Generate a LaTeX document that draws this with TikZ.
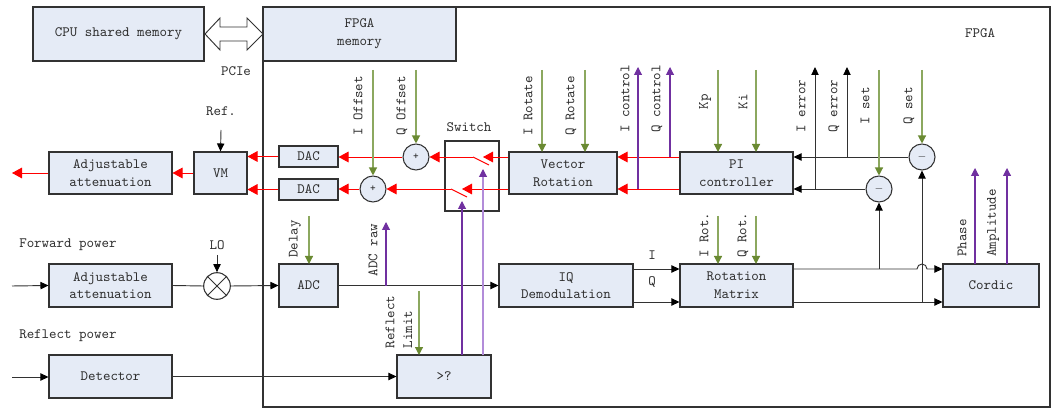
\documentclass[tikz,border=0pt]{standalone}
\usepackage{fontspec}
\usetikzlibrary{arrows.meta,calc}
\definecolor{boxblue}{RGB}{229,235,246}
\definecolor{edge}{RGB}{50,50,50}
\definecolor{txt}{RGB}{45,45,45}
\definecolor{grline}{RGB}{140,168,95}
\definecolor{grhead}{RGB}{106,138,50}
\definecolor{pdark}{RGB}{112,48,160}
\definecolor{plight}{RGB}{178,140,217}
\definecolor{rline}{RGB}{255,0,0}
\newcommand\bx[6]{\node[box, minimum width={(#4-#2)*0.75pt}, minimum height={(#5-#3)*0.75pt}] (#1) at ({(#2+#4)/2},{(#3+#5)/2}) {#6};}
\tikzset{
  box/.style={draw=edge, line width=0.8pt, fill=boxblue, inner sep=0pt, align=center, text=txt},
  sumc/.style={circle, draw=edge, line width=0.8pt, fill=boxblue, minimum size=19.5pt, inner sep=0pt, text=txt, font=\ttfamily\fontsize{8}{8}\selectfont},
  lbl/.style={text=txt, inner sep=0pt},
  rlbl/.style={text=txt, inner sep=0pt, rotate=90},
  blk/.style={draw=edge, line width=0.7pt, -{Triangle[length=6pt, width=5.5pt, color=black]}},
  bln/.style={draw=edge, line width=0.7pt},
  red/.style={draw=rline, line width=0.7pt, -{Triangle[length=7.5pt, width=8pt, color=rline]}},
  redl/.style={draw=rline, line width=0.7pt},
  grn/.style={draw=grline, line width=0.9pt, -{Triangle[length=6pt, width=6pt, color=grhead]}},
  pur/.style={draw=pdark, line width=0.8pt, -{Triangle[length=6pt, width=6pt, color=pdark]}},
  purl/.style={draw=plight, line width=0.8pt, -{Triangle[length=6pt, width=6pt, color=pdark]}},
}
\begin{document}
\begin{tikzpicture}[x=0.75pt, y=-0.75pt, font=\ttfamily\fontsize{10.7}{13.3}\selectfont]
\useasboundingbox (0,0) rectangle (1059,409);
% big FPGA box
\node[draw=edge, line width=0.8pt, minimum width={787*0.75pt}, minimum height={400*0.75pt}, inner sep=0pt] (fpga) at (656.5,207) {};
\node[lbl] (fpgalbl) at (980,33) {FPGA};
% boxes
\bx{cpu}{33}{7}{204}{61}{CPU shared memory}
\bx{fmem}{263}{7}{456}{61}{FPGA\\memory}
\bx{att1}{49}{152}{172}{194}{Adjustable\\attenuation}
\bx{vm}{194}{152}{247}{194}{VM}
\bx{dac1}{279}{146}{338}{167}{DAC}
\bx{dac2}{279}{179}{338}{200}{DAC}
\node[draw=edge, line width=0.8pt, fill=white, minimum width={54*0.75pt}, minimum height={70*0.75pt}, inner sep=0pt] (sw) at (472,176) {};
\bx{vr}{509}{152}{617}{194}{Vector\\Rotation}
\bx{pi}{680}{152}{793}{194}{PI\\controller}
\bx{att2}{49}{264}{172}{307}{Adjustable\\attenuation}
\bx{adc}{279}{264}{338}{307}{ADC}
\bx{iq}{499}{264}{633}{307}{IQ\\Demodulation}
\bx{rm}{680}{264}{793}{307}{Rotation\\Matrix}
\bx{cordic}{943}{264}{1039}{307}{Cordic}
\bx{cmp}{397}{355}{491}{398}{>?}
\bx{det}{49}{355}{172}{398}{Detector}
% circles
\node[sumc] (addQ) at (416,157) {+};
\node[sumc] (addI) at (373,189) {+};
\node[sumc] (subQ) at (922,157) {$-$};
\node[sumc] (subI) at (879,189) {$-$};
\node[circle, draw=edge, line width=0.8pt, fill=white, minimum size=20pt, inner sep=0pt] (mix) at (217,286) {};
\draw[edge, line width=0.7pt] (mix.north west) -- (mix.south east) (mix.north east) -- (mix.south west);
% PCIe double arrow
\draw[edge, line width=0.7pt, fill=white] (205,34) -- (220,18) -- (220,27) -- (247,27) -- (247,18) -- (263,34) -- (247,50) -- (247,41) -- (220,41) -- (220,50) -- cycle;
\node[lbl] (pcie) at (236,71) {PCIe};
% text labels
\node[lbl] (switchlbl) at (469,127) {Switch};
\node[lbl] (reflbl) at (221,111) {Ref.};
\node[lbl] (lolbl) at (217,245) {LO};
\node[lbl, anchor=west] (fwd) at (19,245) {Forward power};
\node[lbl, anchor=west] (rfl) at (19,336) {Reflect power};
\node[lbl] (ilbl) at (652,255) {I};
\node[lbl] (qlbl) at (652,282) {Q};
% coordinates
\coordinate (outL) at (12,173);
\coordinate (in1) at (12,286);
\coordinate (in2) at (12,377);
\coordinate (refT) at (221,130);
\coordinate (loT) at (217,255);
\coordinate (lI) at (0,269);
\coordinate (lQ) at (0,302);
\coordinate (top) at (0,70);
% red paths
\draw[red] (pi.west |- subQ) -- (vr.east |- subQ);
\draw[red] (pi.west |- subI) -- (vr.east |- subI);
\coordinate (swQa) at (483,157);
\coordinate (swQb) at (473,157);
\coordinate (swIa) at (462,189);
\coordinate (swIb) at (451,189);
\draw[red] (vr.west |- addQ) -- (swQa);
\draw[redl] (swQb) -- (489,165);
\draw[red] (swQb) -- (addQ.east);
\draw[red] (vr.west |- addI) -- (swIa);
\draw[redl] (swIb) -- (467,197);
\draw[red] (swIb) -- (addI.east);
\draw[red] (addQ.west) -- (dac1.east |- addQ);
\draw[red] (addI.west) -- (dac2.east |- addI);
\draw[red] (dac1.west) -- (vm.east |- dac1);
\draw[red] (dac2.west) -- (vm.east |- dac2);
\draw[red] (vm.west) -- (att1.east);
\draw[red] (att1.west) -- (outL);
% black paths
\draw[blk] (refT) -- (vm.north);
\draw[blk] (in1) -- (att2.west);
\draw[bln] (att2.east) -- (mix.west);
\draw[blk] (loT) -- (mix.north);
\draw[blk] (mix.east) -- (adc.west);
\draw[blk] (adc.east) -- (iq.west);
\draw[blk] (iq.east |- lI) -- (rm.west |- lI);
\draw[blk] (iq.east |- lQ) -- (rm.west |- lQ);
\draw[blk] (rm.east |- lI) -- (917,269) arc[start angle=180, end angle=0, radius=3.75pt] -- (cordic.west |- lI);
\draw[blk] (rm.east |- lQ) -- (cordic.west |- lQ);
\draw[blk] (subI |- lI) -- (subI.south);
\draw[blk] (subQ |- lQ) -- (subQ.south);
\draw[blk] (subQ.west) -- (pi.east |- subQ);
\draw[blk] (subI.west) -- (pi.east |- subI);
\draw[blk] (815,189) -- (815,67);
\draw[blk] (847,157) -- (847,67);
\draw[blk] (det.east) -- (cmp.west |- det);
\draw[blk] (in2) -- (det.west |- in2);
% green inputs
\draw[grn] (addI |- top) -- (addI.north);
\draw[grn] (addQ |- top) -- (addQ.north);
\draw[grn] (542,70) -- (542,152);
\draw[grn] (585,70) -- (585,152);
\draw[grn] (718,70) -- (718,152);
\draw[grn] (756,70) -- (756,152);
\draw[grn] (subI |- top) -- (subI.north);
\draw[grn] (subQ |- top) -- (subQ.north);
\draw[grn] (309,216) -- (309,264);
\draw[grn] (718,216) -- (718,264);
\draw[grn] (756,216) -- (756,264);
\draw[grn] (419,291) -- (419,355);
% purple outputs
\draw[pur] (386,286) -- (386,222);
\draw[pur] (462,355) -- (462,201);
\draw[purl] (483,355) -- (483,169);
\draw[pur] (638,189) -- (638,67);
\draw[pur] (670,157) -- (670,67);
\draw[pur] (975,264) -- (975,168);
\draw[pur] (1007,264) -- (1007,168);
% rotated labels
\node[rlbl] (l1) at (358,106) {I Offset};
\node[rlbl] (l2) at (402,106) {Q Offset};
\node[rlbl] (l3) at (528,106) {I Rotate};
\node[rlbl] (l4) at (571,106) {Q Rotate};
\node[rlbl] (l5) at (625,99) {I control};
\node[rlbl] (l6) at (657,99) {Q control};
\node[rlbl] (l7) at (705,102) {Kp};
\node[rlbl] (l8) at (743,102) {Ki};
\node[rlbl] (l9) at (801,106) {I error};
\node[rlbl] (l10) at (834,106) {Q error};
\node[rlbl] (l11) at (865,106) {I set};
\node[rlbl] (l12) at (909,106) {Q set};
\node[rlbl] (l13) at (295,239) {Delay};
\node[rlbl] (l14) at (373,250) {ADC raw};
\node[rlbl, align=left] (l15) at (399,322) {Reflect\\Limit};
\node[rlbl] (l16) at (704,235) {I Rot.};
\node[rlbl] (l17) at (743,235) {Q Rot.};
\node[rlbl, anchor=west] (l18) at (962,257) {Phase};
\node[rlbl, anchor=west] (l19) at (993,257) {Amplitude};
\end{tikzpicture}
\end{document}
